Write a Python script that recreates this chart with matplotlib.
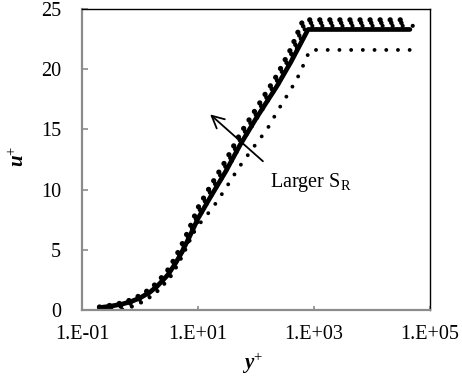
import matplotlib
matplotlib.use("Agg")
import matplotlib.pyplot as plt
from matplotlib.transforms import offset_copy

plt.rcParams['font.family'] = ['Liberation Serif', 'DejaVu Serif']
plt.rcParams['mathtext.fontset'] = 'custom'
plt.rcParams['mathtext.rm'] = 'Liberation Serif'
plt.rcParams['mathtext.it'] = 'Liberation Serif:italic'
plt.rcParams['mathtext.bf'] = 'Liberation Serif:bold'
plt.rcParams['mathtext.bfit'] = 'Liberation Serif:bold:italic'

# Solid curve (reference S_R)
yp_solid = [0.2, 0.3, 0.5, 0.7, 1, 1.5, 2, 3, 4, 5, 7, 10, 16, 30, 53, 100, 230, 400, 790, 45000]
up_solid = [0.2, 0.3, 0.5, 0.7, 1.0, 1.5, 2.0, 2.9, 3.8, 4.6, 6.0, 7.6, 9.3, 11.5, 13.7, 15.9, 18.6, 20.6, 23.3, 23.3]

# Lower dotted curve (smaller S_R)
yp_low = [0.2, 0.3, 0.5, 0.7, 1, 1.5, 2, 3, 4, 5, 7, 10, 18, 30, 50, 100, 155, 240, 385, 510, 650, 850, 45000]
up_low = [0.2, 0.3, 0.5, 0.7, 1.0, 1.5, 2.0, 2.9, 3.8, 4.5, 5.8, 7.0, 8.5, 10.1, 11.8, 13.8, 15.0, 16.6, 18.2, 19.2, 20.3, 21.6, 21.6]

# Upper dotted curve (larger S_R)
yp_up = [0.2, 0.3, 0.5, 0.7, 1, 1.5, 2, 3, 4, 5, 7, 10, 16, 30, 53, 100, 230, 400, 650, 45000]
up_up = [0.25, 0.38, 0.6, 0.85, 1.2, 1.75, 2.3, 3.3, 4.3, 5.2, 6.7, 8.5, 10.2, 12.4, 14.6, 16.7, 19.5, 21.7, 24.1, 24.1]

xticks = [0.1, 10, 1000, 100000]
xticklabels = ['1.E-01', '1.E+01', '1.E+03', '1.E+05']
yticks = [0, 5, 10, 15, 20, 25]

fig = plt.figure(figsize=(4.62, 3.83), dpi=100)
ax = fig.add_axes([82/462, 1-310/383, 348/462, 301/383])

# upper series: round dots with short tails toward the solid line (comma look)
for dx, dy, lw in [(3.0, -6.0, 3.0), (1.5, -3.0, 3.3), (0.0, 0.0, 3.8)]:
    tr = offset_copy(ax.transData, fig=fig, x=dx, y=dy, units='dots')
    ax.plot(yp_up, up_up, color='black', lw=lw, linestyle=(0, (0.01, 7.2 / lw)),
            dash_capstyle='round', transform=tr)
ax.plot(yp_solid, up_solid, color='black', lw=3.4, solid_capstyle='round',
        solid_joinstyle='round')
ax.plot(yp_low, up_low, color='black', lw=2.8, linestyle=(0, (0.01, 3.0)),
        dash_capstyle='round')

ax.set_xscale('log')
ax.set_xlim(0.1, 1e5)
ax.set_ylim(0, 25)
ax.set_xticks(xticks)
ax.set_xticklabels(xticklabels)
ax.minorticks_off()
ax.set_yticks(yticks)

for s in ['left', 'bottom']:
    ax.spines[s].set_color('#8c8c8c')
    ax.spines[s].set_linewidth(1.6)
for s in ['top', 'right']:
    ax.spines[s].set_color('black')
    ax.spines[s].set_linewidth(1.0)

ax.tick_params(axis='y', direction='in', length=4.5, width=1.2, color='#8c8c8c',
               labelsize=14.5, pad=15)
ax.tick_params(axis='x', direction='in', length=3, width=1.2, color='#8c8c8c',
               labelsize=14.5, pad=11)

ax.annotate('', xy=(14.9, 16.4), xytext=(143, 12.2),
            arrowprops=dict(arrowstyle='->', color='black', lw=1.3,
                            mutation_scale=22))
ax.text(174, 10.6, 'Larger S$_\\mathrm{R}$', fontsize=14.5, ha='left', va='center')

ax.text(0.491, -0.176, r'$\mathbfit{y}^{+}$', transform=ax.transAxes,
        fontsize=15, ha='center', va='center')
ax.text(-0.18, 0.51, r'$\mathbfit{u}^{+}$', transform=ax.transAxes,
        fontsize=15, ha='center', va='center', rotation=90)

fig.savefig('out.png', dpi=100)
